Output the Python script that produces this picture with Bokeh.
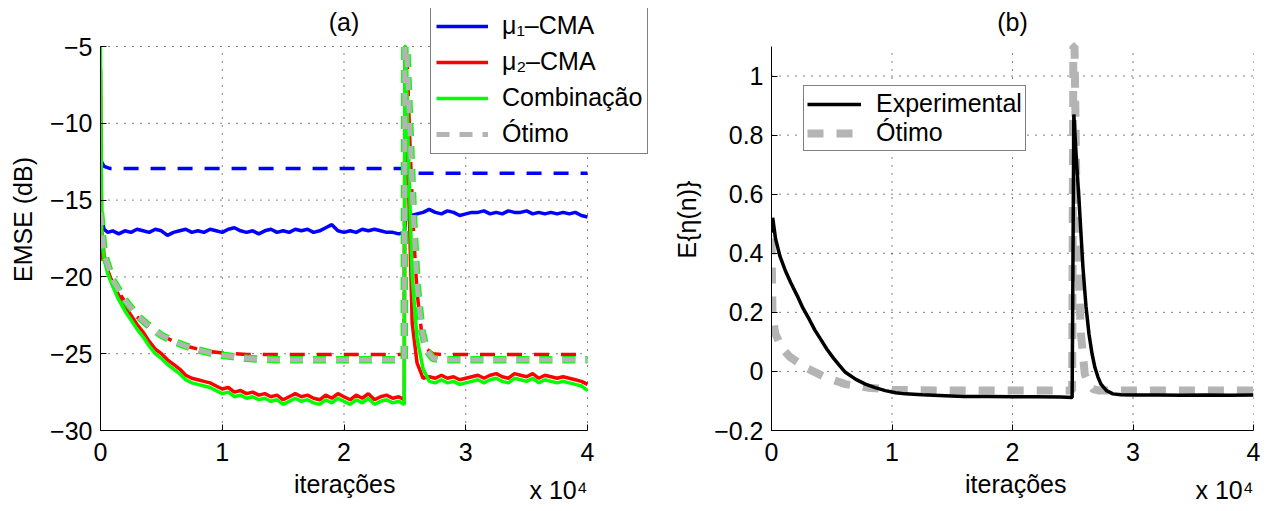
from bokeh.plotting import figure
from bokeh.models import Legend, LegendItem, Label, FixedTicker, Range1d, Title
from bokeh.layouts import row
from bokeh.embed import file_html
from bokeh.resources import INLINE

FONT = "Liberation Sans"
FS = "25px"

# ---------------- data: panel (a) ----------------
G_PRE = [0, 100, 300, 600, 1000, 1500, 2000, 2500, 3000, 3500,
         4000, 4500, 5000, 5500, 6000, 6500, 7000, 7500, 8000, 8500,
         9000, 9500, 10000, 10500, 11000, 11500, 12000, 12500, 13000, 13500,
         14000, 14500, 15000, 15500, 16000, 16500, 17000, 17500, 18000, 18500,
         19000, 19500, 20000, 20500, 21000, 21500, 22000, 22500, 23000, 23500,
         24000, 24500, 24950]
G_SPIKE = [25000]
G_POST = [25050, 25300, 25600, 26000, 26500, 27000, 27500, 28000, 28500, 29000,
          29500, 30000, 30500, 31000, 31500, 32000, 32500, 33000, 33500, 34000,
          34500, 35000, 35500, 36000, 36500, 37000, 37500, 38000, 38500, 39000,
          39500, 40000]

mu1_pre = [-14.5, -16.3, -16.9, -17.1, -17.0, -17.2, -17.0, -17.1, -16.9, -17.0,
           -17.1, -16.9, -17.0, -17.3, -17.1, -17.0, -16.9, -17.1, -17.0, -17.1,
           -16.9, -17.0, -17.1, -16.9, -16.8, -17.0, -17.1, -17.0, -17.2, -17.0,
           -16.9, -17.1, -17.0, -17.1, -16.9, -17.0, -16.9, -17.1, -17.0, -16.8,
           -16.6, -17.0, -17.1, -17.0, -17.1, -16.9, -17.0, -16.9, -17.0, -17.1,
           -17.1, -17.2, -17.1]
mu1_post = [-16.3, -15.9, -16.0, -15.9, -15.8, -15.6, -15.8, -15.9, -15.7, -15.8,
            -16.0, -15.9, -15.8, -15.8, -15.7, -15.9, -15.8, -15.9, -15.7, -15.8,
            -15.8, -15.7, -15.9, -15.8, -15.9, -15.8, -15.9, -15.8, -15.9, -15.8,
            -16.0, -16.1]

mu2_pre = [-6.5, -17.0, -18.6, -19.6, -20.4, -21.2, -21.9, -22.5, -23.1, -23.6,
           -24.2, -24.7, -25.0, -25.4, -25.7, -26.0, -26.4, -26.6, -26.7, -26.8,
           -26.9, -27.1, -27.3, -27.2, -27.5, -27.4, -27.6, -27.5, -27.7, -27.6,
           -27.8, -27.7, -28.0, -27.8, -27.6, -27.8, -27.7, -27.9, -28.0, -27.7,
           -27.9, -27.6, -27.8, -28.0, -27.7, -27.9, -27.6, -28.0, -27.8, -27.7,
           -27.9, -27.8, -28.0]
mu2_spike = [-5.0]
mu2_post = [-5.0, -14.0, -23.0, -25.6, -26.6, -26.5, -26.6, -26.4, -26.6, -26.5,
            -26.7, -26.6, -26.5, -26.4, -26.6, -26.4, -26.3, -26.5, -26.6, -26.3,
            -26.4, -26.5, -26.3, -26.6, -26.4, -26.5, -26.6, -26.5, -26.6, -26.7,
            -26.8, -27.0]

comb_pre = [-5.0, -17.5, -18.8, -19.8, -20.6, -21.5, -22.2, -22.8, -23.4, -23.9,
            -24.5, -25.0, -25.3, -25.7, -26.0, -26.3, -26.7, -26.9, -27.0, -27.1,
            -27.2, -27.4, -27.6, -27.5, -27.8, -27.7, -27.9, -27.8, -28.0, -27.9,
            -28.1, -28.0, -28.3, -28.1, -27.9, -28.1, -28.0, -28.2, -28.3, -28.0,
            -28.2, -27.9, -28.1, -28.3, -28.0, -28.2, -27.9, -28.3, -28.1, -28.0,
            -28.2, -28.1, -28.3]
comb_spike = [-5.0]
comb_post = [-5.0, -12.0, -20.0, -24.0, -26.0, -26.8, -26.9, -26.7, -26.9, -26.8,
             -27.0, -26.9, -26.8, -26.7, -26.9, -26.7, -26.6, -26.8, -26.9, -26.6,
             -26.7, -26.8, -26.6, -26.9, -26.7, -26.8, -26.9, -26.8, -26.9, -27.0,
             -27.1, -27.4]

mu1_th_x = [0, 300, 800, 24950, 25300, 40000]
mu1_th_y = [-12.4, -12.8, -12.95, -12.95, -13.25, -13.25]

mu2_th_x = [0, 300, 1000, 2000, 3000, 4000, 5000, 6000, 7000, 8000, 9000, 10000,
            11000, 12000, 13000, 24950, 25000, 25150, 25400, 25700, 26000, 26400,
            26800, 27300, 28000, 40000]
mu2_th_y = [-18.0, -19.3, -20.4, -21.6, -22.6, -23.3, -23.8, -24.2, -24.5, -24.7,
            -24.85, -24.95, -25.0, -25.05, -25.05, -25.05, -5.0, -5.0, -11.0, -17.0,
            -21.0, -23.8, -24.7, -25.0, -25.05, -25.05]

opt_x = [0, 300, 1000, 2000, 3000, 4000, 5000, 6000, 7000, 8000, 9000, 10000,
         11000, 12000, 13000, 15000, 24950, 25000, 25150, 25400, 25700, 26000,
         26400, 26800, 27300, 28000, 40000]
opt_y = [-15.8, -18.5, -20.2, -21.5, -22.5, -23.2, -23.8, -24.2, -24.5, -24.75,
         -24.95, -25.1, -25.2, -25.3, -25.35, -25.4, -25.4, -5.0, -5.0, -10.0,
         -16.0, -20.5, -23.5, -24.8, -25.3, -25.4, -25.4]
comb_th_y = [-15.8, -18.5, -20.2, -21.5, -22.5, -23.2, -23.8, -24.2, -24.5, -24.75,
             -24.95, -25.1, -25.2, -25.3, -25.35, -25.4, -25.4, -5.0, -5.0, -10.0,
             -16.0, -20.5, -23.5, -24.8, -25.3, -25.4, -25.4]

# ---------------- data: panel (b) ----------------
eta_x = [0, 100, 330, 700, 1160, 1600, 2150, 2600, 3150, 3600,
         4140, 4600, 5140, 5600, 6130, 7000, 7790, 8600, 9440, 10300,
         11100, 12500, 14400, 16000, 18000, 20000, 22000, 24000, 24950, 25090,
         25300, 25520, 25850, 26100, 26350, 26600, 26840, 27100, 27340, 27800,
         28330, 29000, 30000, 32000, 34000, 36000, 38000, 40000]
eta_y = [0.47, 0.52, 0.45, 0.39, 0.34, 0.30, 0.255, 0.215, 0.175, 0.14,
         0.105, 0.075, 0.045, 0.022, -0.003, -0.027, -0.043, -0.055, -0.065, -0.072,
         -0.076, -0.079, -0.082, -0.085, -0.085, -0.086, -0.086, -0.087, -0.088, 0.87,
         0.72, 0.58, 0.35, 0.22, 0.126, 0.06, 0.013, -0.02, -0.043, -0.065,
         -0.076, -0.079, -0.08, -0.08, -0.081, -0.08, -0.081, -0.08]

eta_opt_x = [0, 80, 300, 830, 1500, 2820, 4470, 6130, 8000, 10000, 15000, 24900,
             24950, 25050, 25150, 25350, 25680, 26000, 26400, 26680, 27200, 28000, 40000]
eta_opt_y = [0.45, 0.20, 0.13, 0.081, 0.05, 0.013, -0.02, -0.043, -0.055, -0.062,
             -0.065, -0.065, -0.065, 1.1, 1.1, 0.46, 0.126, -0.01, -0.045, -0.06,
             -0.065, -0.065, -0.065]

x_ticks = [0, 10000, 20000, 30000, 40000]
x_tick_labels = ["0", "1", "2", "3", "4"]
ya_ticks = [-30, -25, -20, -15, -10, -5]
ya_tick_labels = ["\u221230", "\u221225", "\u221220", "\u221215", "\u221210", "\u22125"]
yb_ticks = [-0.2, 0.0, 0.2, 0.4, 0.6, 0.8, 1.0]
yb_tick_labels = ["\u22120.2", "0", "0.2", "0.4", "0.6", "0.8", "1"]

BLUE = "#0000ff"
RED = "#ff0000"
GREEN = "#00ff00"
GRAY = "#b4b4b4"

# layout (pixels)
FRAME_W = 487          # width of the axes box
FRAME_H = 384          # height of the axes box
TOP_EXTRA = 38         # frame extends this far above the axes box (room for title/legend)
XLABEL_W = 100         # rendered width of "iterações" at 25px


def style(p, xlim, ylim, yticks, ylabels, ylabel, extra_right):
    p.outline_line_color = None
    p.background_fill_color = "white"
    p.border_fill_color = "white"
    p.xgrid.visible = False
    p.ygrid.visible = False
    p.xaxis.ticker = FixedTicker(ticks=x_ticks)
    p.xaxis.major_label_overrides = dict(zip(x_ticks, x_tick_labels))
    p.yaxis.ticker = FixedTicker(ticks=yticks)
    p.yaxis.major_label_overrides = dict(zip(yticks, ylabels))
    p.xaxis.bounds = xlim
    p.yaxis.bounds = ylim
    p.yaxis.axis_label = ylabel
    for ax in (p.xaxis[0], p.yaxis[0]):
        ax.axis_line_color = "black"
        ax.axis_line_width = 1
        ax.major_tick_in = 6
        ax.major_tick_out = 0
        ax.major_tick_line_color = "black"
        ax.minor_tick_line_color = None
        ax.major_label_text_font = FONT
        ax.major_label_text_font_size = FS
        ax.major_label_text_color = "black"
        ax.axis_label_text_font = FONT
        ax.axis_label_text_font_size = FS
        ax.axis_label_text_font_style = "normal"
        ax.axis_label_text_color = "black"
    p.xaxis.major_label_standoff = 12
    p.yaxis.major_label_standoff = 8
    p.yaxis.axis_label_standoff = 10
    # dotted grid within the axes box, at the tick values
    n_x = len(x_ticks)
    n_y = len(yticks)
    p.segment(x0=x_ticks, y0=[ylim[0]] * n_x, x1=x_ticks, y1=[ylim[1]] * n_x,
              line_color="black", line_width=1, line_dash="1 7")
    p.segment(x0=[xlim[0]] * n_y, y0=yticks, x1=[xlim[1]] * n_y, y1=yticks,
              line_color="black", line_width=1, line_dash="1 7")
    # x label centred under the axes box, "x 10^4" at its right end
    p.add_layout(Title(text="iterações", align="left", offset=(FRAME_W - XLABEL_W) / 2,
                       vertical_align="top", standoff=12,
                       text_font=FONT, text_font_size=FS, text_font_style="normal",
                       text_color="black"), "below")
    p.add_layout(Title(text="x 10\u2074", align="right", offset=extra_right,
                       vertical_align="top", standoff=-60,
                       text_font=FONT, text_font_size=FS, text_font_style="normal",
                       text_color="black"), "below")


# ---------------- panel (a) ----------------
a_xlim = (0, 40000)
a_ylim = (-30, -5)
A_EXTRA_RIGHT = 83     # frame continues right of the axes box (room for the legend)
pa = figure(width=100 + FRAME_W + A_EXTRA_RIGHT, height=508,
            x_range=Range1d(a_xlim[0], a_xlim[1] * (FRAME_W + A_EXTRA_RIGHT) / FRAME_W),
            y_range=Range1d(a_ylim[0], a_ylim[1] + (a_ylim[1] - a_ylim[0]) * TOP_EXTRA / FRAME_H),
            output_backend="svg", toolbar_location=None,
            min_border_left=100, min_border_right=0, min_border_top=8, min_border_bottom=78)
style(pa, a_xlim, a_ylim, ya_ticks, ya_tick_labels, "EMSE (dB)", A_EXTRA_RIGHT)

r_b = pa.line(G_PRE + G_POST, mu1_pre + mu1_post, line_color=BLUE, line_width=3.5)
pa.line(mu1_th_x, mu1_th_y, line_color=BLUE, line_width=3.5, line_dash="15 12")
r_r = pa.line(G_PRE + G_SPIKE + G_POST, mu2_pre + mu2_spike + mu2_post, line_color=RED, line_width=3.5)
pa.line(mu2_th_x, mu2_th_y, line_color=RED, line_width=3.5, line_dash="15 12")
r_g = pa.line(G_PRE + G_SPIKE + G_POST, comb_pre + comb_spike + comb_post, line_color=GREEN, line_width=3.5)
pa.line(opt_x, comb_th_y, line_color=GREEN, line_width=7.5, line_dash="13 10")
r_o = pa.line(opt_x, opt_y, line_color=GRAY, line_width=5, line_dash="13 10")

leg_a = Legend(items=[LegendItem(label="\u03bc\u2081\u2013CMA", renderers=[r_b]),
                      LegendItem(label="\u03bc\u2082\u2013CMA", renderers=[r_r]),
                      LegendItem(label="Combinação", renderers=[r_g]),
                      LegendItem(label="Ótimo", renderers=[r_o])],
               location=(330, 276), orientation="vertical",
               border_line_color="black", border_line_width=1.2,
               background_fill_color="white", background_fill_alpha=1,
               label_text_font=FONT, label_text_font_size=FS, label_text_color="black",
               glyph_width=52, glyph_height=28, label_height=28, label_standoff=14,
               spacing=7, padding=5, margin=0)
pa.add_layout(leg_a)
pa.add_layout(Label(x=20000, y=FRAME_H + 25, x_units="data", y_units="screen", text="(a)",
                    text_font=FONT, text_font_size=FS, text_align="center",
                    text_baseline="middle", text_color="black"))

# ---------------- panel (b) ----------------
b_xlim = (0, 40000)
b_ylim = (-0.2, 1.1)
pb = figure(width=96 + FRAME_W + 17, height=508,
            x_range=Range1d(b_xlim[0], b_xlim[1]),
            y_range=Range1d(b_ylim[0], b_ylim[1] + (b_ylim[1] - b_ylim[0]) * TOP_EXTRA / FRAME_H),
            output_backend="svg", toolbar_location=None,
            min_border_left=96, min_border_right=17, min_border_top=8, min_border_bottom=78)
style(pb, b_xlim, b_ylim, yb_ticks, yb_tick_labels, "E{\u03b7(n)}", 0)

r_go = pb.line(eta_opt_x, eta_opt_y, line_color=GRAY, line_width=8, line_dash="16 13")
r_k = pb.line(eta_x, eta_y, line_color="black", line_width=3.5)

leg_b = Legend(items=[LegendItem(label="Experimental", renderers=[r_k]),
                      LegendItem(label="Ótimo", renderers=[r_go])],
               location=(32, 279), orientation="vertical",
               border_line_color="black", border_line_width=1.2,
               background_fill_color="white", background_fill_alpha=1,
               label_text_font=FONT, label_text_font_size=FS, label_text_color="black",
               glyph_width=54, glyph_height=28, label_height=28, label_standoff=15,
               spacing=0, padding=3, margin=0)
pb.add_layout(leg_b)
pb.add_layout(Label(x=20000, y=FRAME_H + 25, x_units="data", y_units="screen", text="(b)",
                    text_font=FONT, text_font_size=FS, text_align="center",
                    text_baseline="middle", text_color="black"))

layout = row(pa, pb)
open("out.html", "w").write(file_html(layout, INLINE))
